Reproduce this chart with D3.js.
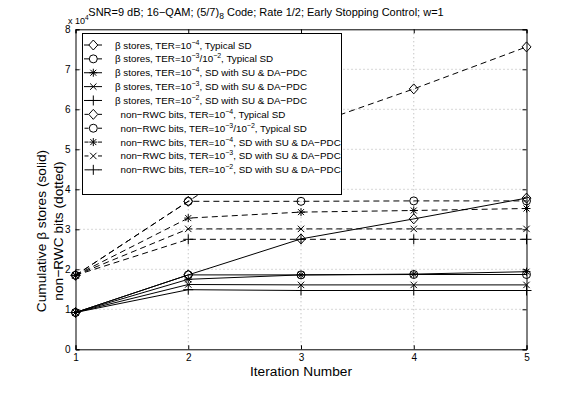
<!DOCTYPE html>
<html>
<head>
<meta charset="utf-8">
<script src="https://cdn.jsdelivr.net/npm/d3@7"></script>
<style>
  body { margin: 0; background: #fff; }
  svg { font-family: "Liberation Sans", Arial, sans-serif; }
</style>
</head>
<body>
<svg id="chart" width="581" height="393"></svg>
<script>
// iteration numbers on x axis
var iterations = [1, 2, 3, 4, 5]
var xTicks = [1, 2, 3, 4, 5]
var yTicks = [0, 1, 2, 3, 4, 5, 6, 7, 8]

// values in units of 1e4
// beta stores (solid)
var betaTypical4 = [0.92, 1.86, 2.76, 3.26, 3.78]
var betaTypical32 = [0.92, 1.86, 1.86, 1.87, 1.87]
var betaSU4 = [0.92, 1.75, 1.86, 1.88, 1.94]
var betaSU3 = [0.92, 1.62, 1.61, 1.61, 1.61]
var betaSU2 = [0.92, 1.49, 1.47, 1.47, 1.47]
// non-RWC bits (dashed)
var rwcTypical4 = [1.85, 3.70, 5.52, 6.51, 7.56]
var rwcTypical32 = [1.85, 3.70, 3.70, 3.71, 3.71]
var rwcSU4 = [1.85, 3.28, 3.43, 3.47, 3.52]
var rwcSU3 = [1.85, 3.01, 3.01, 3.01, 3.01]
var rwcSU2 = [1.85, 2.75, 2.75, 2.75, 2.75]

// legend label pieces: '^' marks a superscript
var series = [
  {v: betaTypical4, m: 'diamond', dash: false, label: ['\u03b2 stores, TER=10', '^\u22124', ', Typical SD']},
  {v: betaTypical32, m: 'circle', dash: false, label: ['\u03b2 stores, TER=10', '^\u22123', '/10', '^\u22122', ', Typical SD']},
  {v: betaSU4, m: 'star', dash: false, label: ['\u03b2 stores, TER=10', '^\u22124', ', SD with SU & DA\u2212PDC']},
  {v: betaSU3, m: 'x', dash: false, label: ['\u03b2 stores, TER=10', '^\u22123', ', SD with SU & DA\u2212PDC']},
  {v: betaSU2, m: 'plus', dash: false, label: ['\u03b2 stores, TER=10', '^\u22122', ', SD with SU & DA\u2212PDC']},
  {v: rwcTypical4, m: 'diamond', dash: true, label: ['non\u2212RWC bits, TER=10', '^\u22124', ', Typical SD']},
  {v: rwcTypical32, m: 'circle', dash: true, label: ['non\u2212RWC bits, TER=10', '^\u22123', '/10', '^\u22122', ', Typical SD']},
  {v: rwcSU4, m: 'star', dash: true, label: ['non\u2212RWC bits, TER=10', '^\u22124', ', SD with SU & DA\u2212PDC']},
  {v: rwcSU3, m: 'x', dash: true, label: ['non\u2212RWC bits, TER=10', '^\u22123', ', SD with SU & DA\u2212PDC']},
  {v: rwcSU2, m: 'plus', dash: true, label: ['non\u2212RWC bits, TER=10', '^\u22122', ', SD with SU & DA\u2212PDC']}
]

var svg = d3.select('#chart')
var margin = {top: 29.3, left: 75.5, right: 54.5, bottom: 43.7}
var width = 581 - margin.left - margin.right
var height = 393 - margin.top - margin.bottom

var x = d3.scaleLinear().domain([1, 5]).range([0, width])
var y = d3.scaleLinear().domain([0, 8]).range([height, 0])

var g = svg.append('g')
  .attr('transform', 'translate(' + margin.left + ',' + margin.top + ')')

// dotted grid
g.selectAll('.gx').data(xTicks.slice(1, -1)).enter().append('line')
  .attr('x1', (d) => x(d)).attr('x2', (d) => x(d))
  .attr('y1', 0).attr('y2', height)
  .attr('stroke', '#999').attr('stroke-width', 0.8).attr('stroke-dasharray', '1,3')
g.selectAll('.gy').data(yTicks.slice(1, -1)).enter().append('line')
  .attr('y1', (d) => y(d)).attr('y2', (d) => y(d))
  .attr('x1', 0).attr('x2', width)
  .attr('stroke', '#999').attr('stroke-width', 0.8).attr('stroke-dasharray', '1,3')

// axes
var xAxis = g.append('g').attr('transform', 'translate(0,' + height + ')')
  .call(d3.axisBottom(x).tickValues(xTicks).tickSize(-4).tickPadding(5).tickFormat(d3.format('d')))
var xAxisTop = g.append('g')
  .call(d3.axisTop(x).tickValues(xTicks).tickSize(-4).tickFormat(''))
var yAxis = g.append('g')
  .call(d3.axisLeft(y).tickValues(yTicks).tickSize(-4).tickPadding(5).tickFormat(d3.format('d')))
var yAxisRight = g.append('g').attr('transform', 'translate(' + width + ',0)')
  .call(d3.axisRight(y).tickValues(yTicks).tickSize(-4).tickFormat(''))
;[xAxis, xAxisTop, yAxis, yAxisRight].forEach(function (a) {
  a.select('.domain').attr('stroke', '#000').attr('stroke-width', 1)
  a.selectAll('.tick line').attr('stroke', '#000')
  a.selectAll('text').attr('font-size', 10).attr('fill', '#000')
    .attr('font-family', '"Liberation Sans", Arial, sans-serif')
})

// marker path generator
function markerPath (type) {
  switch (type) {
    case 'diamond': return 'M0,-5L4.5,0L0,5L-4.5,0Z'
    case 'circle': return 'M4,0A4,4 0 1,1 -4,0A4,4 0 1,1 4,0Z'
    case 'star': return 'M-4,0H4M0,-4V4M-3,-3L3,3M-3,3L3,-3'
    case 'x': return 'M-3.2,-3.2L3.2,3.2M-3.2,3.2L3.2,-3.2'
    case 'plus': return 'M-5,0H5M0,-5V5'
  }
}

var line = d3.line().x((d, i) => x(iterations[i])).y((d) => y(d))

series.forEach(function (s) {
  g.append('path').datum(s.v)
    .attr('fill', 'none')
    .attr('stroke', '#000')
    .attr('stroke-width', 1)
    .attr('stroke-dasharray', s.dash ? '6,4' : null)
    .attr('d', line)
  g.selectAll(null).data(s.v).enter().append('path')
    .attr('transform', (d, i) => 'translate(' + x(iterations[i]) + ',' + y(d) + ')')
    .attr('d', markerPath(s.m))
    .attr('fill', 'none')
    .attr('stroke', '#000')
    .attr('stroke-width', 1)
})

// write text pieces, '^' = superscript, '_' = subscript
function richText (t, parts, small, shift) {
  var offset = 0
  parts.forEach(function (p) {
    var ts = t.append('tspan')
    var want = 0
    if (p[0] === '^') { want = -shift; p = p.slice(1); ts.attr('font-size', small) }
    else if (p[0] === '_') { want = shift * 0.75; p = p.slice(1); ts.attr('font-size', small) }
    if (want !== offset) ts.attr('dy', want - offset)
    offset = want
    ts.text(p)
  })
}

// legend
var lg = svg.append('g').attr('transform', 'translate(82.5,33.5)')
lg.append('rect').attr('x', 0).attr('y', 0).attr('width', 259).attr('height', 161)
  .style('fill', '#fff').style('stroke', '#000').style('stroke-width', '1px')
series.forEach(function (s, i) {
  var ry = 11.5 + i * 13.87
  if (s.dash) {
    lg.append('line').attr('x1', 2).attr('x2', 6).attr('y1', ry).attr('y2', ry).attr('stroke', '#000')
    lg.append('line').attr('x1', 15.5).attr('x2', 19.5).attr('y1', ry).attr('y2', ry).attr('stroke', '#000')
  } else {
    lg.append('line').attr('x1', 1.5).attr('x2', 19.5).attr('y1', ry).attr('y2', ry).attr('stroke', '#000')
  }
  lg.append('path').attr('transform', 'translate(10.8,' + ry + ')')
    .attr('d', markerPath(s.m)).attr('fill', '#fff')
    .attr('stroke', '#000')
  var t = lg.append('text').attr('x', s.dash ? 38 : 32.5).attr('y', ry + 3.5)
    .attr('font-size', 9.8).attr('fill', '#000')
  richText(t, s.label, 7, 4)
})

// title
var title = svg.append('text').attr('x', 266).attr('y', 15.5)
  .attr('text-anchor', 'middle').attr('font-size', 11).attr('fill', '#000')
richText(title, ['SNR=9 dB; 16\u2212QAM;  (5/7)', '_8', ' Code; Rate 1/2; Early Stopping Control; w=1'], 8.5, 4)

// exponent label
var ex = svg.append('text').attr('x', 68).attr('y', 24).attr('font-size', 9).attr('fill', '#000')
richText(ex, ['x 10', '^4'], 6.5, 4)

// axis labels
svg.append('text').attr('x', margin.left + width / 2).attr('y', 376)
  .attr('text-anchor', 'middle').attr('font-size', 13.7).attr('fill', '#000')
  .text('Iteration Number')
var yl = svg.append('text').attr('transform', 'translate(46,231) rotate(-90)')
  .attr('text-anchor', 'middle').attr('font-size', 13.7).attr('fill', '#000')
yl.append('tspan').attr('x', 0).attr('dy', 0).text('Cumulative \u03b2 stores (solid)')
yl.append('tspan').attr('x', 0).attr('dy', 17).text('non\u2212RWC bits (dotted)')
</script>
</body>
</html>
